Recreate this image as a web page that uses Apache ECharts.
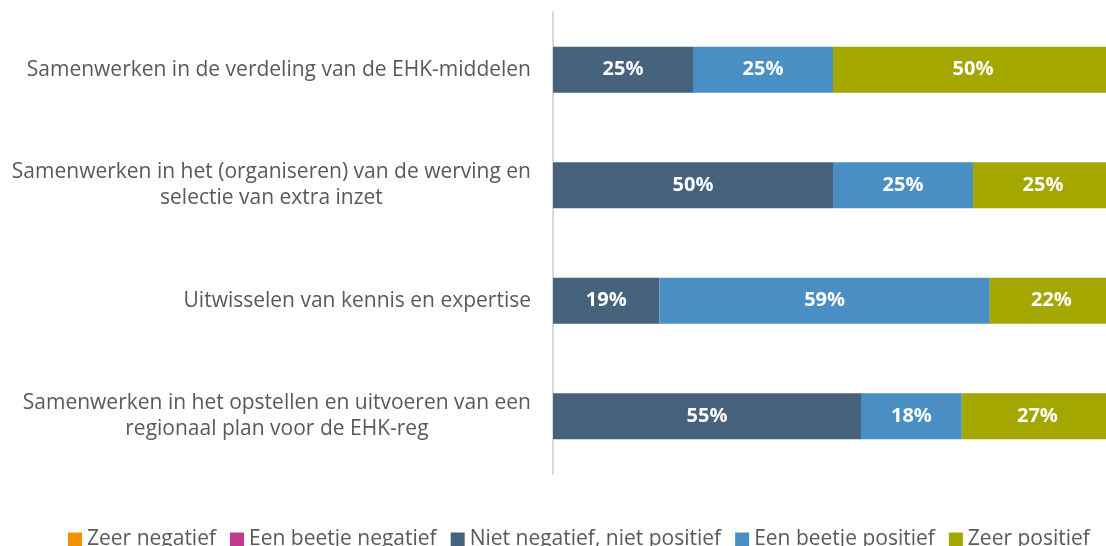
<!DOCTYPE html>
<html>
<head>
<meta charset="utf-8">
<script src="https://cdn.jsdelivr.net/npm/echarts@6/dist/echarts.min.js"></script>
<style>
    html, body { margin: 0; padding: 0; background: #fff; }
    #chart { width: 1106px; height: 546px; }
</style>
</head>
<body>
<div id="chart"></div>
<script>
    // categories (top to bottom)
    const categories = [
        'Samenwerken in de verdeling van de EHK-middelen',
        'Samenwerken in het (organiseren) van de werving en\nselectie van extra inzet',
        'Uitwisselen van kennis en expertise',
        'Samenwerken in het opstellen en uitvoeren van een\nregionaal plan voor de EHK-reg'
    ];

    const seriesNames = ['Zeer negatief', 'Een beetje negatief', 'Niet negatief, niet positief', 'Een beetje positief', 'Zeer positief'];
    const zeerNegatief = [0, 0, 0, 0];
    const beetjeNegatief = [0, 0, 0, 0];
    const neutraal = [25, 50, 19, 55];
    const beetjePositief = [25, 25, 59, 18];
    const zeerPositief = [50, 25, 22, 27];

    const colors = ['#F39200', '#C0398E', '#46627C', '#4A8FC4', '#A3A700'];
    const values = [zeerNegatief, beetjeNegatief, neutraal, beetjePositief, zeerPositief];

    const chart = echarts.init(document.getElementById('chart'));

    let series = [];
    for (let i = 0; i < seriesNames.length; i++) {
        series.push({
            name: seriesNames[i],
            type: 'bar',
            stack: 'total',
            barWidth: 46,
            data: values[i],
            itemStyle: { color: colors[i] },
            label: {
                show: true,
                position: 'inside',
                color: '#fff',
                fontWeight: 'bold',
                fontSize: 20,
                fontFamily: 'Open Sans',
                formatter: (p) => p.value > 0 ? p.value + '%' : ''
            }
        });
    }

    const option = {
        animation: false,
        textStyle: { fontFamily: 'Open Sans' },
        // chart continues a little past the right edge, like the original crop
        grid: { left: 553, width: 560, top: 12, bottom: 72, outerBoundsMode: 'none' },
        legend: {
            data: seriesNames,
            left: 63,
            top: 524,
            icon: 'rect',
            itemWidth: 14,
            itemHeight: 14,
            itemGap: 14,
            textStyle: { fontSize: 21, color: '#595959', fontFamily: 'Open Sans', padding: [0, 0, 0, 0] }
        },
        xAxis: {
            type: 'value',
            min: 0,
            max: 100,
            show: false
        },
        yAxis: {
            type: 'category',
            inverse: true,
            data: categories,
            axisLine: { show: true, lineStyle: { color: '#d9d9d9', width: 2 } },
            axisTick: { show: false },
            axisLabel: {
                margin: 22,
                formatter: (value) => '{c|' + value.split('\n').join('}\n{c|') + '}',
                rich: {
                    c: {
                        align: 'center',
                        fontSize: 21,
                        lineHeight: 26,
                        color: '#595959',
                        fontFamily: 'Open Sans'
                    }
                }
            }
        },
        series: series
    };

    chart.setOption(option);
</script>
</body>
</html>
